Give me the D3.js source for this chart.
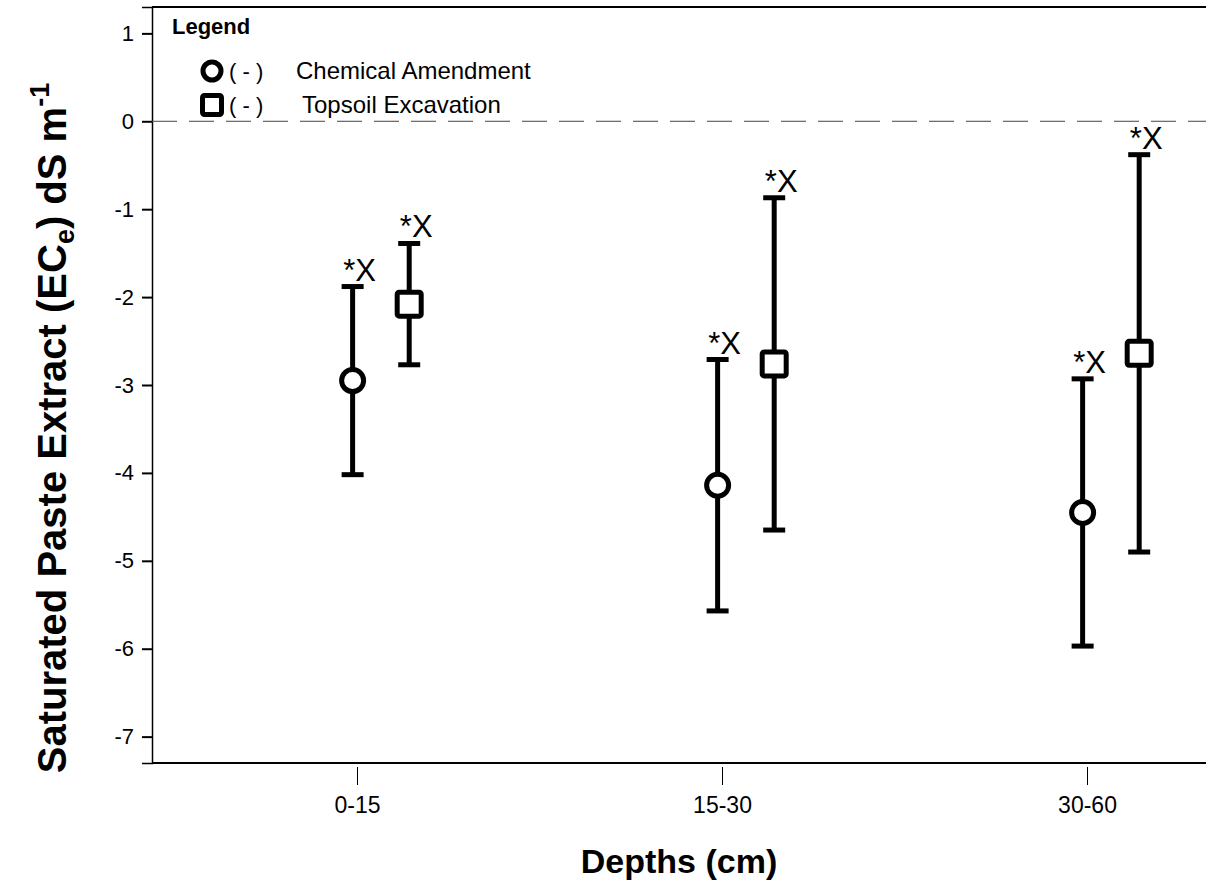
<!DOCTYPE html>
<html>
<head>
<meta charset="utf-8">
<script src="https://cdn.jsdelivr.net/npm/d3@7"></script>
<style>
  html, body { margin: 0; padding: 0; background: #fff; }
  svg { display: block; font-family: "Liberation Sans", Arial, sans-serif; }
</style>
</head>
<body>
<svg id="chart" width="1206" height="884"></svg>
<script>
// Depth classes along the x axis
const depths = ["0-15", "15-30", "30-60"];
// Change in ECe (dS m-1), mean and error bar half-width per depth
const chemicalMean = [-2.95, -4.14, -4.45];
const chemicalErr = [1.07, 1.43, 1.52];
const topsoilMean = [-2.08, -2.76, -2.64];
const topsoilErr = [0.69, 1.89, 2.26];
// Significance marks above each bar
const chemicalMark = ["*X", "*X", "*X"];
const topsoilMark = ["*X", "*X", "*X"];
// Y axis ticks
const yTicks = [1, 0, -1, -2, -3, -4, -5, -6, -7];

const svg = d3.select("#chart");
const plotLeft = 152, plotRight = 1206, plotTop = 7, plotBottom = 763;
const FONT = "Liberation Sans, Arial, sans-serif";

// category index 1..3 mapped onto the depth tick positions
const x = d3.scaleLinear().domain([1, 3]).range([357, 1087]);
const y = d3.scaleLinear().domain([-7.3, 1.3]).range([plotBottom, plotTop]);

const circleShift = -0.012, squareShift = 0.143;

// frame: top line and bottom axis line
svg.append("line").attr("x1", plotLeft).attr("x2", plotRight).attr("y1", plotTop).attr("y2", plotTop)
  .attr("stroke", "#000").attr("stroke-width", 2);
svg.append("line").attr("x1", plotLeft).attr("x2", plotRight).attr("y1", plotBottom).attr("y2", plotBottom)
  .attr("stroke", "#000").attr("stroke-width", 2);

// y axis
const yAxis = d3.axisLeft(y).tickValues(yTicks).tickSize(10).tickPadding(8)
  .tickFormat(d => String(d));
const gy = svg.append("g").attr("transform", `translate(${plotLeft},0)`).call(yAxis);
gy.select(".domain").attr("stroke-width", 1.5);
gy.selectAll(".tick line").attr("stroke-width", 2);
gy.selectAll(".tick text").attr("font-size", 22).attr("font-family", FONT);

// x axis: ticks sit just below the axis line, detached from it
const xAxis = d3.axisBottom(x).tickValues([1, 2, 3]).tickSize(18).tickPadding(12)
  .tickFormat((d, i) => depths[i]);
const gx = svg.append("g").attr("transform", `translate(0,${plotBottom + 4})`).call(xAxis);
gx.select(".domain").remove();
gx.selectAll(".tick line").attr("stroke-width", 1);
gx.selectAll(".tick text").attr("font-size", 23).attr("font-family", FONT);

// zero reference line
svg.append("line").attr("x1", plotLeft).attr("x2", plotRight).attr("y1", y(0)).attr("y2", y(0))
  .attr("stroke", "#444").attr("stroke-width", 1).attr("stroke-dasharray", "25,12");

// axis titles
svg.append("text").attr("x", (plotLeft + plotRight) / 2).attr("y", 873)
  .attr("text-anchor", "middle").attr("font-size", 34).attr("font-weight", "bold")
  .text("Depths (cm)");

const yt = svg.append("text")
  .attr("transform", `translate(66,428) rotate(-90)`)
  .attr("text-anchor", "middle").attr("font-size", 40).attr("font-weight", "bold");
yt.append("tspan").text("Saturated Paste Extract (EC");
yt.append("tspan").attr("font-size", 27).attr("dy", 8).text("e");
yt.append("tspan").attr("dy", -8).text(") dS m");
yt.append("tspan").attr("font-size", 27).attr("dy", -17).text("-1");

// series drawing
function drawSeries(means, errs, marks, shift, shape) {
  const g = svg.append("g");
  means.forEach((m, i) => {
    const cx = x(i + 1 + shift);
    const hi = y(m + errs[i]), lo = y(m - errs[i]);
    g.append("line").attr("x1", cx).attr("x2", cx).attr("y1", hi).attr("y2", lo)
      .attr("stroke", "#000").attr("stroke-width", 5);
    [hi, lo].forEach(cy => g.append("line").attr("x1", cx - 11).attr("x2", cx + 11)
      .attr("y1", cy).attr("y2", cy).attr("stroke", "#000").attr("stroke-width", 5));
    if (shape === "circle") {
      g.append("circle").attr("cx", cx).attr("cy", y(m)).attr("r", 11)
        .attr("fill", "#fff").attr("stroke", "#000").attr("stroke-width", 5);
    } else {
      g.append("rect").attr("x", cx - 12).attr("y", y(m) - 12).attr("width", 24).attr("height", 24)
        .attr("rx", 2).attr("fill", "#fff").attr("stroke", "#000").attr("stroke-width", 5);
    }
    g.append("text").attr("x", cx + 7).attr("y", hi - 6).attr("text-anchor", "middle")
      .attr("font-size", 31).text(marks[i]);
  });
}
drawSeries(chemicalMean, chemicalErr, chemicalMark, circleShift, "circle");
drawSeries(topsoilMean, topsoilErr, topsoilMark, squareShift, "square");

// legend
const lg = svg.append("g");
lg.append("text").attr("x", 172).attr("y", 34).attr("font-size", 22).attr("font-weight", "bold").text("Legend");
lg.append("circle").attr("cx", 212).attr("cy", 71).attr("r", 9)
  .attr("fill", "#fff").attr("stroke", "#000").attr("stroke-width", 5);
lg.append("rect").attr("x", 202.5).attr("y", 95.5).attr("width", 19).attr("height", 19).attr("rx", 2)
  .attr("fill", "#fff").attr("stroke", "#000").attr("stroke-width", 5);
lg.append("text").attr("x", 229).attr("y", 79).attr("font-size", 22).text("( - )");
lg.append("text").attr("x", 296).attr("y", 79).attr("font-size", 24).text("Chemical Amendment");
lg.append("text").attr("x", 229).attr("y", 113).attr("font-size", 22).text("( - )");
lg.append("text").attr("x", 302).attr("y", 113).attr("font-size", 24).text("Topsoil Excavation");
</script>
</body>
</html>
